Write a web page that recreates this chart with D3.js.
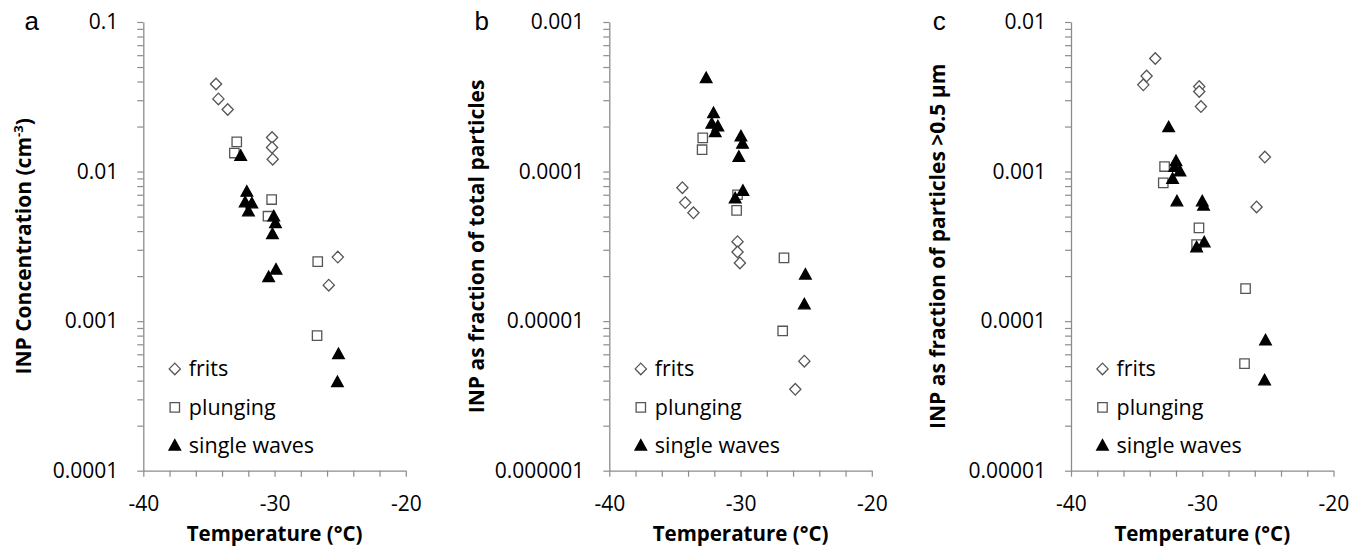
<!DOCTYPE html>
<html>
<head>
<meta charset="utf-8">
<script src="https://cdn.jsdelivr.net/npm/d3@7"></script>
<style>
  body { margin: 0; background: #fff; }
  svg { display: block; }
  text { font-family: "Open Sans", sans-serif; fill: #000; }
</style>
</head>
<body>
<div id="chart"></div>
<script>
// values: [temperature °C, value]
// panel a: INP concentration (cm-3)
let fritsA = [[-34.46,0.0385],[-34.28,0.0306],[-33.57,0.026],[-30.19,0.0169],[-30.19,0.0145],[-30.14,0.0121],[-25.18,0.00268],[-25.87,0.00174]];
let plungingA = [[-32.88,0.0158],[-33.06,0.0133],[-30.22,0.0065],[-30.5,0.00503],[-26.71,0.0025],[-26.76,0.0008]];
let wavesA = [[-32.58,0.0127],[-32.11,0.0073],[-32.24,0.0062],[-31.73,0.0061],[-31.99,0.0054],[-30.06,0.005],[-29.93,0.0045],[-30.16,0.0038],[-30.45,0.00196],[-29.89,0.0022],[-25.13,0.0006],[-25.21,0.00039]];

// panel b: fraction of total particles
let fritsB = [[-34.43,7.8e-5],[-34.22,6.2e-5],[-33.59,5.3e-5],[-30.23,3.4e-5],[-30.23,2.9e-5],[-30.05,2.45e-5],[-25.14,5.4e-6],[-25.83,3.5e-6]];
let plungingB = [[-32.88,1.68e-4],[-32.93,1.4e-4],[-30.23,7.0e-5],[-30.3,5.5e-5],[-26.69,2.65e-5],[-26.79,8.6e-6]];
let wavesB = [[-32.62,4.2e-4],[-32.06,2.45e-4],[-32.19,2.08e-4],[-31.73,2.0e-4],[-31.93,1.83e-4],[-29.97,1.71e-4],[-29.85,1.53e-4],[-30.13,1.25e-4],[-29.82,7.4e-5],[-30.41,6.6e-5],[-25.06,2.04e-5],[-25.14,1.29e-5]];

// panel c: fraction of particles >0.5 µm
let fritsC = [[-33.58,5.7e-3],[-34.24,4.35e-3],[-34.49,3.8e-3],[-30.23,3.7e-3],[-30.23,3.43e-3],[-30.1,2.72e-3],[-25.23,1.25e-3],[-25.86,5.8e-4]];
let plungingC = [[-32.87,1.08e-3],[-32.97,8.4e-4],[-30.25,4.2e-4],[-30.43,3.25e-4],[-26.7,1.65e-4],[-26.78,5.2e-5]];
let wavesC = [[-32.56,1.97e-3],[-32.0,1.17e-3],[-32.1,1.07e-3],[-31.7,1.0e-3],[-32.26,8.9e-4],[-31.93,6.3e-4],[-30.0,6.3e-4],[-29.9,5.9e-4],[-29.85,3.35e-4],[-30.43,3.1e-4],[-25.18,7.4e-5],[-25.25,4.0e-5]];

let xTicks = [-40,-30,-20];
let yLabelsA = ['0.1','0.01','0.001','0.0001'];
let yLabelsB = ['0.001','0.0001','0.00001','0.000001'];
let yLabelsC = ['0.01','0.001','0.0001','0.00001'];
let seriesNames = ['frits','plunging','single waves'];

const W = 1366, H = 548;
const plotTop = 22, plotBottom = 470.7, plotW = 262.5;
const axisColor = '#8c8c8c';

let svg = d3.select('#chart').append('svg').attr('width', W).attr('height', H);

let panels = [
  {letter:'a', left:143.3, labels:yLabelsA, series:[fritsA,plungingA,wavesA], yTitleX:31, letterX:31.7},
  {letter:'b', left:609.3, labels:yLabelsB, series:[fritsB,plungingB,wavesB], yTitleX:484, letterX:481.7},
  {letter:'c', left:1071, labels:yLabelsC, series:[fritsC,plungingC,wavesC], yTitleX:945, letterX:939.3}
];

// marker shapes
function diamond(){ return 'M0,-5.8L5.6,0L0,5.8L-5.6,0Z'; }
function square(){ return 'M-4.7,-4.7H4.7V4.7H-4.7Z'; }
function triangle(){ return 'M0,-6.3L5.8,4.2H-5.8Z'; }
let shapes = [diamond, square, triangle];
let fills = ['#fff','#fff','#000'];
let strokes = ['#555','#555','#000'];

panels.forEach(function(p){
  let yMax = +p.labels[0], yMin = +p.labels[p.labels.length-1];
  let x = d3.scaleLinear().domain([-40,-20]).range([p.left, p.left+plotW]);
  let y = d3.scaleLog().domain([yMin, yMax]).range([plotBottom, plotTop]);

  // log ticks, majors and 2..9 minors
  let yTickVals = [];
  for (let e = Math.round(Math.log10(yMin)); e <= Math.round(Math.log10(yMax)); e++) {
    for (let m = 1; m <= 9; m++) {
      let v = m * Math.pow(10, e);
      if (v <= yMax*1.0001) yTickVals.push(v);
    }
  }

  let yAxis = d3.axisLeft(y)
    .tickValues(yTickVals)
    .tickSizeInner(6).tickSizeOuter(0).tickPadding(19)
    .tickFormat(function(d){
      let l = Math.log10(d);
      if (Math.abs(l - Math.round(l)) < 1e-6) {
        let idx = Math.round(Math.log10(yMax)) - Math.round(l);
        return p.labels[idx];
      }
      return '';
    });

  let gy = svg.append('g').attr('transform','translate('+p.left+',0)').call(yAxis);

  let xAxis = d3.axisBottom(x)
    .tickValues(d3.range(-40,-19,2))
    .tickSizeInner(6).tickSizeOuter(0).tickPadding(19)
    .tickFormat(function(d){ return xTicks.indexOf(d) >= 0 ? d : ''; });

  let gx = svg.append('g').attr('transform','translate(0,'+plotBottom+')').call(xAxis);

  [gx, gy].forEach(function(g){
    g.select('.domain').attr('stroke', axisColor).attr('stroke-width', 1.3);
    g.selectAll('.tick line').attr('stroke', axisColor).attr('stroke-width', 1.2);
    g.selectAll('.tick text').style('font-family','"Open Sans", sans-serif').style('font-size','21px').attr('fill','#000');
  });

  // points
  p.series.forEach(function(s, i){
    svg.append('g').selectAll('path').data(s).enter()
      .append('path')
      .attr('d', shapes[i])
      .attr('transform', function(d){ return 'translate('+x(d[0])+','+y(d[1])+')'; })
      .attr('fill', fills[i])
      .attr('stroke', strokes[i])
      .attr('stroke-width', 1.3);
  });

  // legend
  let legend = svg.append('g').attr('transform','translate('+(p.left+31.5)+',0)');
  seriesNames.forEach(function(name, i){
    let cy = 368.9 + i*38.5;
    legend.append('path').attr('d', shapes[i]())
      .attr('transform','translate(0,'+cy+')')
      .attr('fill', fills[i]).attr('stroke', strokes[i]).attr('stroke-width', 1.3);
    legend.append('text').attr('x', 14).attr('y', cy + 7.5)
      .style('font-size','21.5px').text(name);
  });

  // x title
  svg.append('text')
    .attr('x', p.left + plotW/2).attr('y', 540.5)
    .attr('text-anchor','middle')
    .style('font-size','20.5px').style('font-weight','bold')
    .text('Temperature (°C)');

  // panel letter
  svg.append('text')
    .attr('x', p.letterX).attr('y', 30)
    .attr('text-anchor','middle')
    .style('font-family','"Liberation Sans", Arial, sans-serif')
    .style('font-size','26px')
    .text(p.letter);

  // y title
  let yt = svg.append('text')
    .attr('transform','translate('+p.yTitleX+','+((plotTop+plotBottom)/2)+') rotate(-90)')
    .attr('text-anchor','middle')
    .style('font-size','21px').style('font-weight','bold');
  if (p.letter == 'a') {
    yt.append('tspan').text('INP Concentration (cm');
    yt.append('tspan').attr('dy', -8).style('font-size','13px').text('-3');
    yt.append('tspan').attr('dy', 8).text(')');
  } else if (p.letter == 'b') {
    yt.text('INP as fraction of total particles');
  } else {
    yt.text('INP as fraction of particles >0.5 μm');
  }
});
</script>
</body>
</html>
